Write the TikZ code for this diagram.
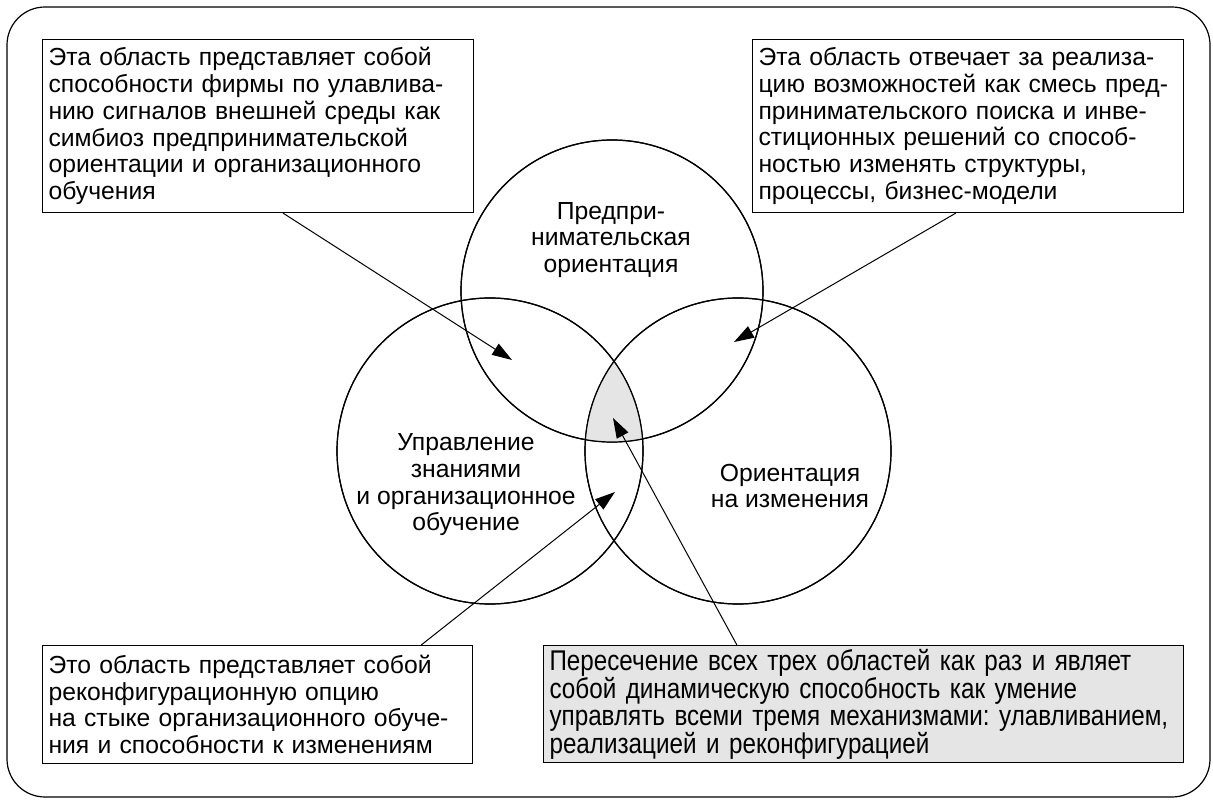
\documentclass[tikz,border=0pt]{standalone}
\usepackage{fontspec}
\setmainfont{Liberation Sans}
\newfontfamily\narrowfont[FakeStretch=0.85]{Liberation Sans}
\usetikzlibrary{arrows.meta,positioning}
\frenchspacing

\begin{document}
\begin{tikzpicture}[x=1pt,y=-1pt,
		every node/.style={font=\fontsize{24.7}{26.7}\selectfont},
		note box/.style={draw,line width=1.1pt,anchor=north west,align=left,
			inner xsep=6pt,inner ysep=0pt},
		venn circle/.style={circle,draw,line width=1.2pt,inner sep=0pt},
		venn label/.style={align=center,inner sep=0pt},
		pointer/.style={line width=1pt,-{Triangle[length=20pt,width=13pt]}}]
	
	\useasboundingbox (0,0) rectangle (1213,802);
	\draw[line width=1.2pt,rounded corners=38pt] (7,7) rectangle (1210,797);
	
	% three regions
	\node[venn circle,minimum size=302pt] (pred) at (612,291) {};
	\node[venn circle,minimum size=306pt] (know) at (490,451) {};
	\node[venn circle,minimum size=306pt] (change) at (738,451) {};
	
	% common part of all three
	\begin{scope}
		\clip (pred.center) circle[radius=151pt];
		\clip (know.center) circle[radius=153pt];
		\fill[black!10] (change.center) circle[radius=153pt];
	\end{scope}
	\draw[line width=1.2pt] (pred.center) circle[radius=151pt]
		(know.center) circle[radius=153pt]
		(change.center) circle[radius=153pt];
	
	\node[venn label] (predtxt) at (611,240) {Предпри-\\нимательская\\ориентация};
	\node[venn label] (knowtxt) at (466,485) {Управление\\знаниями\\и организационное\\обучение};
	\node[venn label] (changetxt) at (790,486) {Ориентация\\на изменения};
	
	% comment boxes
	\node[note box,text width=419pt,minimum height=173pt] (sense) at (42,39)
		{Эта область представляет собой\\способности фирмы по улавлива-\\нию сигналов внешней среды как\\симбиоз предпринимательской\\ориентации и организационного\\обучения};
	\node[note box,text width=419pt,minimum height=173pt] (seize) at (752,39)
		{Эта область отвечает за реализа-\\цию возможностей как смесь пред-\\принимательского поиска и инве-\\стиционных решений со способ-\\ностью изменять структуры,\\процессы, бизнес-модели};
	\node[note box,text width=418pt,minimum height=118pt] (reconf) at (42,645)
		{Это область представляет собой\\реконфигурационную опцию\\на стыке организационного обуче-\\ния и способности к изменениям};
	\node[note box,fill=black!10,text width=628pt,minimum height=117pt,
		font=\narrowfont\fontsize{28.5}{27}\selectfont] (dyncap) at (543,645)
		{Пересечение всех трех областей как раз и являет\\собой динамическую способность как умение\\управлять всеми тремя механизмами: улавливанием,\\реализацией и реконфигурацией};
	
	\coordinate (sensetip) at (512,360);
	\coordinate (seizetip) at (734,342);
	\coordinate (reconftip) at (615,492);
	\coordinate (dyncaptip) at (613,418);
	
	\draw[pointer] (sense.-74) -- (sensetip);
	\draw[pointer] (seize.-98) -- (seizetip);
	\draw[pointer] (reconf.20) -- (reconftip);
	\draw[pointer] (dyncap.155) -- (dyncaptip);
\end{tikzpicture}
\end{document}
